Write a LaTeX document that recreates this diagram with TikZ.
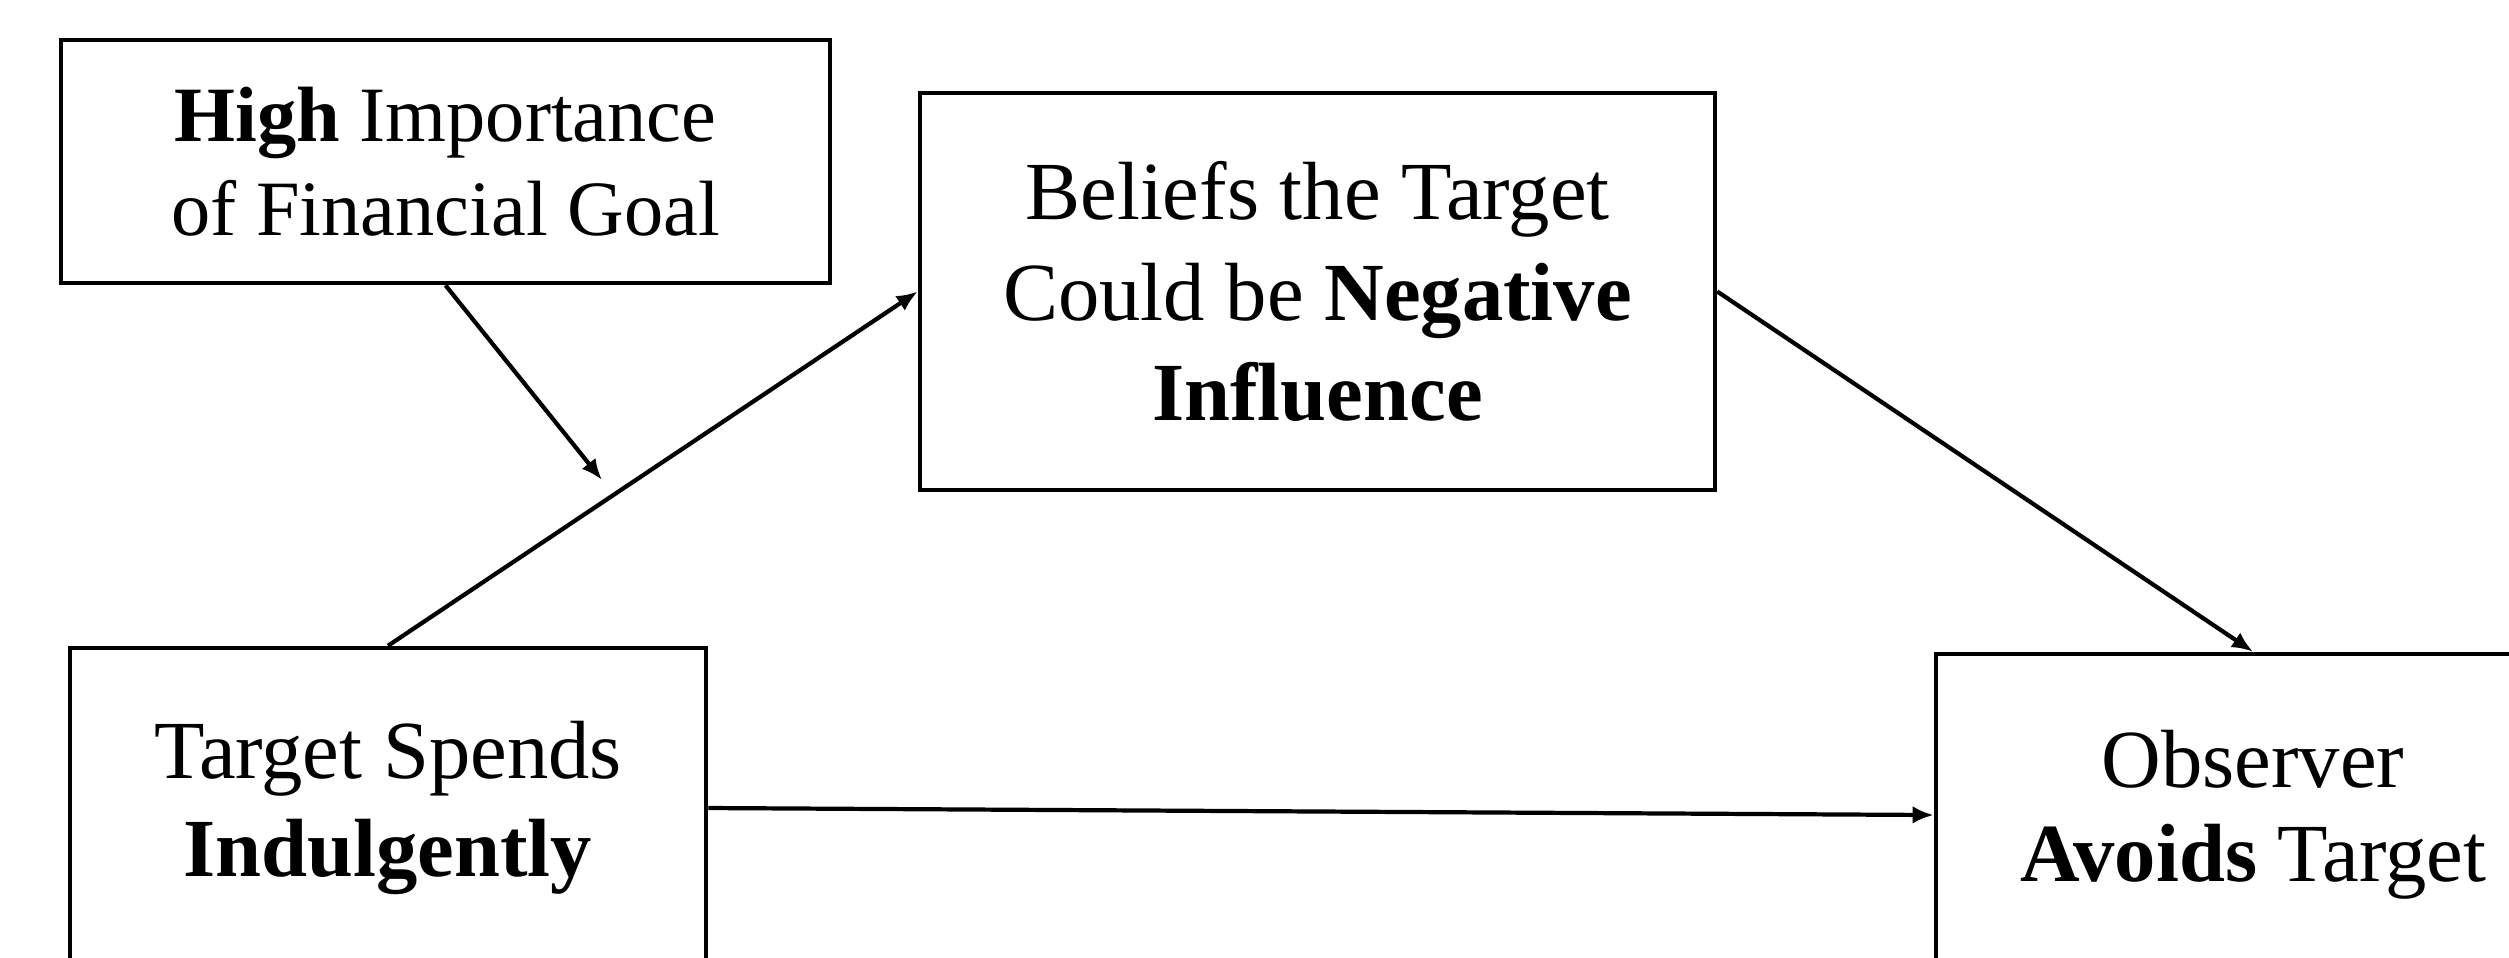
\documentclass[tikz,border=0pt]{standalone}
\usepackage{fontspec}
\setmainfont{Liberation Serif}
\usetikzlibrary{arrows.meta}
\begin{document}
\begin{tikzpicture}[
  box/.style={draw=black, line width=1.3pt, rectangle, inner sep=0pt, align=center, text=black},
  conn/.style={draw=black, line width=1.2pt, -{Latex[length=6pt,width=5pt]}}
]
\clip (0,0) rectangle (25.09,-9.57);
\fill[white] (0,0) rectangle (25.09,-9.57);

\node[box, minimum width=7.69cm, minimum height=2.43cm, font=\fontsize{22.3}{26.8}\selectfont]
  (A) at (4.455,-1.615) {\textbf{High} Importance\\of Financial Goal};
\node[box, minimum width=7.95cm, minimum height=3.97cm, font=\fontsize{23.5}{28.5}\selectfont]
  (B) at (13.175,-2.915) {Beliefs the Target\\Could be \textbf{Negative}\\\textbf{Influence}};
\node[box, minimum width=6.36cm, minimum height=3.20cm, font=\fontsize{23.5}{27.8}\selectfont]
  (C) at (3.88,-8.08) {Target Spends\\\textbf{Indulgently}};
\node[box, minimum width=6.34cm, minimum height=3.22cm, font=\fontsize{23.5}{26.8}\selectfont]
  (D) at (22.53,-8.15) {Observer\\\textbf{Avoids} Target};

\coordinate (m) at (6.02,-4.80);

\draw[conn] (C.north) -- (B.west);
\draw[conn] (A.south) -- (m);
\draw[conn] (B.east) -- (D.north);
\draw[conn] (C.east) -- (D.west);
\end{tikzpicture}
\end{document}
